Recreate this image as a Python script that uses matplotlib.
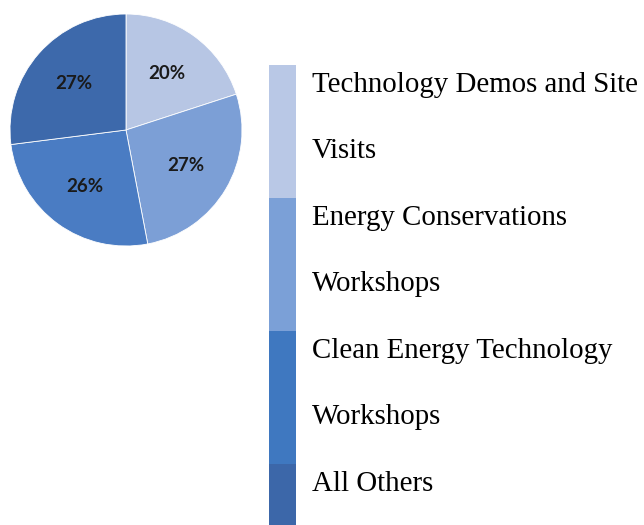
import matplotlib
matplotlib.use('Agg')
from matplotlib import pyplot as plt

# pie data (clockwise from 12 o'clock)
shares = [20, 27, 26, 27]
slice_colors = ['#b7c6e4', '#7c9fd6', '#4a7cc3', '#3d69ab']

# legend entries (the bar on the right)
labels = ['Technology Demos and Site\nVisits',
          'Energy Conservations\nWorkshops',
          'Clean Energy Technology\nWorkshops',
          'All Others']
legend_colors = ['#b9c8e6', '#7ba0d7', '#3f78c0', '#3c67a9']

W, H = 644, 525
fig = plt.figure(figsize=(W / 100, H / 100), dpi=100)

# pie, centre ~ (126,130) px, radius ~116 px
cx, cy, r = 126, 130, 116
ax = fig.add_axes([(cx - r) / W, 1 - (cy + r) / H, 2 * r / W, 2 * r / H])
wedges, texts, autotexts = ax.pie(
    shares, colors=slice_colors, startangle=90, counterclock=False,
    autopct='%d%%', pctdistance=0.6,
    wedgeprops=dict(edgecolor='white', linewidth=0.6))
for t in autotexts:
    t.set_fontfamily('Lato')
    t.set_fontweight('bold')
    t.set_fontsize(13.5)
    t.set_color('#1a1a1a')
ax.set_xlim(-1, 1)
ax.set_ylim(-1, 1)
ax.set_aspect('equal')
ax.axis('off')

# legend bar
seg = 133
lx, ly = 269, 65
lw = W - lx
lh = seg * 4
lg = fig.add_axes([lx / W, 1 - (ly + lh) / H, lw / W, lh / H])
lg.set_xlim(0, lw)
lg.set_ylim(4, 0)
lg.axis('off')
for i, (lab, col) in enumerate(zip(labels, legend_colors)):
    lg.bar(0, 1, width=27, bottom=i, align='edge', color=col, linewidth=0)
    for j, line in enumerate(lab.split('\n')):
        lg.text(43, i + 0.2 + 0.5 * j, line, fontfamily='Liberation Serif',
                fontsize=20.8, va='baseline', ha='left', color='black')

fig.savefig('out.png', dpi=100)
